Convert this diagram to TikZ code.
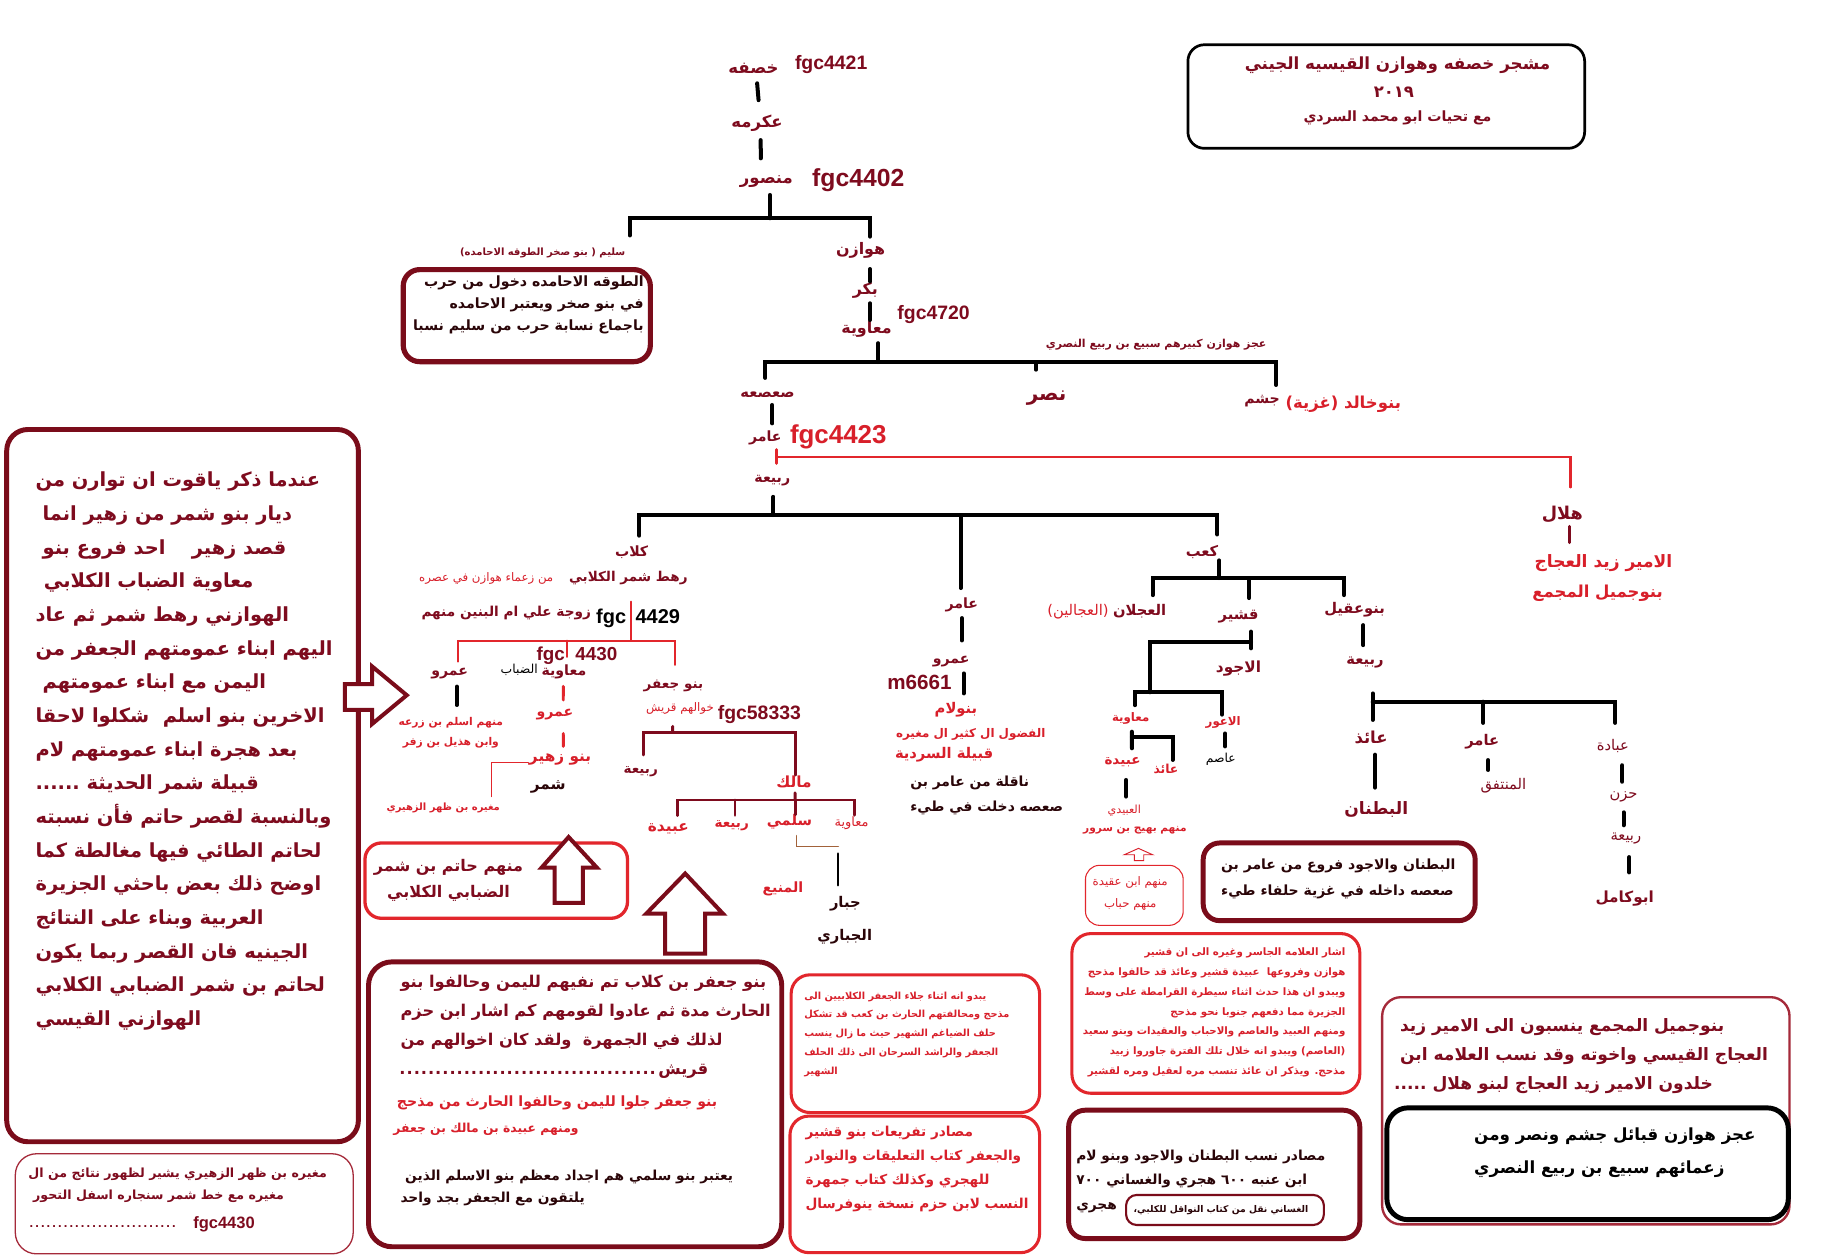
\documentclass[tikz,border=0pt]{standalone}
\usepackage{fontspec}
\setmainfont{Liberation Sans}
\newfontfamily\arabicfont[Script=Arabic]{DejaVu Sans}
\TeXXeTstate=1
\usetikzlibrary{positioning}

\definecolor{dred}{HTML}{7E0B1E}
\definecolor{rred}{HTML}{D81F2A}
\definecolor{bord}{HTML}{7A0C1A}
\definecolor{rbord}{HTML}{E2262C}
\definecolor{brn}{HTML}{A2623A}
\definecolor{ink}{HTML}{2A0508}
\definecolor{pink}{HTML}{A52A3A}

\newcommand\ar[1]{\beginR #1\endR}
\newcommand\fsz[2]{\fontsize{#1}{#2}\selectfont}

\tikzset{
  kin/.style={inner sep=0pt, text=dred, font={\arabicfont\bfseries\fsz{#1}{#1}}},
  kinl/.style={inner sep=0pt, text=dred, font={\arabicfont\fsz{#1}{#1}}},
  kinr/.style={inner sep=0pt, text=rred, font={\arabicfont\bfseries\fsz{#1}{#1}}},
  kinrl/.style={inner sep=0pt, text=rred, font={\arabicfont\fsz{#1}{#1}}},
  kblk/.style={inner sep=0pt, text=ink, font={\arabicfont\bfseries\fsz{#1}{#1}}},
  kblkl/.style={inner sep=0pt, text=black, font={\arabicfont\fsz{#1}{#1}}},
  fgc/.style={inner sep=0pt, text=dred, font={\bfseries\fsz{#1}{#1}}},
  para/.style 2 args={inner sep=0pt, align=left, font={\arabicfont\bfseries\fsz{#1}{#2}}},
  lk/.style 2 args={shorten <=#1, shorten >=#2},
  bar/.style={line width=3.4pt},
  rln/.style={draw=rbord, line width=1.8pt},
  mln/.style={draw=dred, line width=2.5pt},
  bigbox/.style={draw=bord, line width=4.2pt, rounded corners=18pt},
  redbox/.style={draw=rbord, line width=2.6pt, rounded corners=16pt},
  hollow/.style={draw=bord, line width=3.4pt, fill=white, line join=miter},
}

\begin{document}
\begin{tikzpicture}[x=1pt,y=-1pt,line cap=round]
\fill[white] (0,0) rectangle (1568,1070);
\useasboundingbox (0,0) rectangle (1568,1070);

% ---- title ----
\draw[line width=2.3pt, rounded corners=14pt] (1009,38) rectangle (1346,126);
\node[kin=14.2] (title) at (1187,55) {\ar{مشجر خصفه وهوازن القيسيه الجيني}};
\node[kin=14] (year) at (1184,78) {\ar{٢٠١٩}};
\node[kin=12] (greet) at (1187,100.5) {\ar{مع تحيات ابو محمد السردي}};

% ---- khasafa .. mansour ----
\node[kin=14] (khasafa) at (640,58) {\ar{خصفه}};
\node[fgc=16.5] (g4421) at (706,55) {fgc4421};
\node[kin=14] (ikrima) at (643,104.5) {\ar{عكرمه}};
\node[kin=14] (mansour) at (651,154) {\ar{منصور}};
\node[fgc=21] (g4402) at (729,153) {fgc4402};
\node[kin=13.5] (hawazin) at (731,213) {\ar{هوازن}};
\node[kin=8.5] (sulaym) at (461,215) {\ar{سليم ( بنو صخر الطوقه الاحامده)}};
\draw[bar, lk={12.8pt}{19.5pt}] ([xshift=2pt]khasafa.center) -- ([xshift=3pt]ikrima.center);
\draw[bar, lk={14.5pt}{19.5pt}] ([xshift=3pt]ikrima.center) -- ([xshift=-4.6pt]mansour.center);
\coordinate (jm) at (654,185.4);
\draw[bar, shorten <=11.6pt] ([xshift=3pt]mansour.center) -- ([xshift=3pt]mansour.center |- jm);
\coordinate (jsl) at (535,200);
\draw[bar, shorten >=12pt] (jsl) |- (jm) -| ([xshift=8pt]hawazin.center);

% sulaym box
\draw[bigbox, line width=4.4pt, rounded corners=14pt] (342.5,229) rectangle (552.4,307.2);
\node[para={12}{18.4}, text=ink, align=right, anchor=east] (sulaymtxt) at (547,259)
  {\ar{الطوقه الاحامده دخول من حرب}\\ \ar{في بنو صخر ويعتبر الاحامده}\\ \ar{باجماع نسابة حرب من سليم نسبا}};

% ---- hawazin .. muawiya ----
\node[kin=13.5] (bakr) at (735,247) {\ar{بكر}};
\node[kin=13.5] (muaw1) at (736,280) {\ar{معاوية}};
\node[fgc=16.5] (g4720) at (793,267) {fgc4720};
\draw[bar, lk={15.5pt}{8pt}] ([xshift=8pt]hawazin.center) -- ([xshift=4pt]bakr.center);
\draw[bar, lk={10.6pt}{8.2pt}] ([xshift=4pt]bakr.center) -- ([xshift=3pt]muaw1.center);

\node[kin=9.3] (ajz) at (982,293) {\ar{عجز هوازن كبيرهم سبيع بن ربيع النصري}};
\node[kin=12.5] (saasaa) at (652,335) {\ar{صعصعه}};
\node[kin=17] (nasr) at (889,338) {\ar{نصر}};
\node[kin=12] (jusham) at (1072,341) {\ar{جشم}};
\node[kinr=14] (khalid) at (1141,343) {\ar{بنوخالد (غزية)}};
\coordinate (jmu) at (746,307.5);
\draw[bar, shorten <=11.5pt] ([xshift=10pt]muaw1.center) -- ([xshift=10pt]muaw1.center |- jmu);
\draw[bar, lk={14pt}{14pt}] ([xshift=-2pt]saasaa.center) |- (jmu) -| ([xshift=12pt]jusham.center);
\draw[bar, shorten >=24pt] ([xshift=-9pt]nasr.center |- jmu) -- ([xshift=-9pt]nasr.center);

% ---- amir / fgc4423 ----
\node[kin=12] (amir1) at (650,372) {\ar{عامر}};
\node[fgc=22, text=rred] (g4423) at (712,371) {fgc4423};
\node[kin=12] (rabia1) at (656,408) {\ar{ربيعة}};
\node[kin=15] (hilal) at (1327,437) {\ar{هلال}};
\node[kinr=14.5] (zaid) at (1362,478) {\ar{الامير زيد العجاج}};
\node[kinr=14] (jamil) at (1357,504) {\ar{بنوجميل المجمع}};
\draw[bar, lk={9pt}{12.4pt}] ([xshift=4pt]saasaa.center) -- ([xshift=6pt]amir1.center);
\coordinate (rj) at (659.6,388);
\draw[rln, line width=2.6pt, lk={10pt}{14.5pt}] ([xshift=9.6pt]amir1.center) -- ([xshift=3.6pt]rabia1.center);
\draw[rln, shorten >=23pt] (rj) -| ([xshift=7pt]hilal.center);
\draw[mln, lk={10pt}{17pt}] ([xshift=6pt]hilal.center) -- ([xshift=-29pt]zaid.center);

% ---- rabia bracket ----
\node[kin=12] (kilab) at (536.5,469) {\ar{كلاب}};
\node[kin=12] (amir2) at (817,514) {\ar{عامر}};
\node[kin=12.5] (kaab) at (1021,469) {\ar{كعب}};
\coordinate (jr) at (657,437.5);
\draw[bar, shorten <=14pt] ([xshift=1pt]rabia1.center) -- (jr);
\draw[bar, lk={14pt}{15pt}] ([xshift=6.5pt]kilab.center) |- (jr) -| ([xshift=13pt]kaab.center);
\draw[bar, shorten >=14.5pt] ([xshift=-1pt]amir2.center |- jr) -- ([xshift=-1pt]amir2.center);

% ---- kilab ----
\node[kin=11.5] (shamr1) at (533.7,491) {\ar{رهط شمر الكلابي}};
\node[kinrl=10] (zuamaa) at (413,491) {\ar{من زعماء هوازن في عصره}};
\node[kin=11.6] (zawja) at (430,521) {\ar{زوجة علي ام البنين منهم}};
\node[fgc=17, text=black] (g4429) at (542,525) {fgc\hspace{8pt}4429};
\node[kin=12] (amr1) at (382,572.5) {\ar{عمرو}};
\node[kin=12] (muaw2) at (479,571) {\ar{معاوية}};
\node[kblkl=10.5] (dabab) at (441,569) {\ar{الضباب}};
\node[fgc=16] (g4430) at (490,557) {fgc\hspace{9pt}4430};
\node[kin=11.5] (jafar) at (572,582.5) {\ar{بنو جعفر}};
\node[kinrl=10] (akhwal) at (577.6,602) {\ar{خوالهم قريش}};
\node[fgc=16.5] (g58333) at (645,607) {fgc58333};
\coordinate (jk) at (536,544.2);
\draw[rln, shorten <=20pt] ([xshift=2.3pt]shamr1.center) -- (jk);
\draw[rln, lk={10.5pt}{17.7pt}] ([xshift=7pt]amr1.center) |- (jk) -| ([xshift=1.3pt]jafar.center);
\draw[rln, shorten >=13pt] ([xshift=2.3pt]muaw2.center |- jk) -- ([xshift=2.3pt]muaw2.center);

\node[kinr=9.1, align=center, font={\arabicfont\bfseries\fsz{9.1}{17}}] (aslam) at (383,622) {\ar{منهم اسلم بن زرعه}\\ \ar{وابن هذيل بن زفر}};
\node[kinr=12] (amr2) at (471.4,607.3) {\ar{عمرو}};
\node[kinr=13] (zuhair) at (475.7,645) {\ar{بنو زهير}};
\node[kblk=13] (shamr2) at (465.7,668) {\ar{شمر}};
\node[kinr=8.5] (mughira) at (376.5,686.6) {\ar{مغيره بن ظهر الزهيري}};
\draw[bar, line width=3pt, lk={10.5pt}{23pt}] ([xshift=6pt]amr1.center) -- ([xshift=5pt]aslam.center);
\draw[rln, line width=2.5pt, lk={12pt}{12.7pt}] ([xshift=-0.5pt]muaw2.center) -- ([xshift=7pt]amr2.center);
\draw[rln, line width=2.5pt, lk={15.7pt}{11pt}] ([xshift=7pt]amr2.center) -- ([xshift=2.8pt]zuhair.center);
\draw[rbord, line width=0.9pt, shorten >=10pt] ([xshift=-27pt,yshift=-3pt]zuhair.center) -| ([xshift=41pt]mughira.center);

% jafar branch
\node[kin=11.5] (rabia2) at (544.2,655.5) {\ar{ربيعة}};
\node[kinr=13] (malik) at (674.4,664.5) {\ar{مالك}};
\node[kinr=13] (ubaida1) at (567.7,704) {\ar{عبيدة}};
\node[kinr=11.5] (rabia3) at (621.5,701) {\ar{ربيعة}};
\node[kinr=12.5] (salmi) at (670.5,698) {\ar{سلمي}};
\node[kinrl=11] (muaw3) at (723.4,699.3) {\ar{معاوية}};
\node[kinr=12] (muna) at (665,755) {\ar{المنيع}};
\node[kblk=12.5] (jabbar) at (718,768) {\ar{جبار}};
\node[kblk=12.5] (jabbari) at (717.5,795.6) {\ar{الجباري}};
\coordinate (jj) at (571.4,622);
\draw[mln, shorten <=15pt] ([xshift=-6.2pt]akhwal.center) -- (jj);
\draw[mln, lk={14.2pt}{6.2pt}] ([xshift=2.2pt]rabia2.center) |- (jj) -| ([xshift=0.9pt]malik.center);
\coordinate (jma) at (675.3,679.5);
\draw[mln, shorten <=9pt] ([xshift=0.9pt]malik.center) -- (jma);
\draw[mln, lk={11.3pt}{7pt}] ([xshift=7.6pt]ubaida1.center) |- (jma) -| ([xshift=2.3pt]muaw3.center);
\draw[mln, shorten >=8.5pt] ([xshift=2.8pt]rabia3.center |- jma) -- ([xshift=2.8pt]rabia3.center);
\draw[mln, shorten >=6pt] ([xshift=4.8pt]salmi.center |- jma) -- ([xshift=4.8pt]salmi.center);
\coordinate (jbr) at (712,719);
\draw[brn, line width=1.6pt, shorten <=12pt] ([xshift=6pt]salmi.center) |- (jbr);
\draw[line width=2pt, lk={6pt}{16pt}] (jbr) -- ([xshift=-6pt]jabbar.center);

% ---- amir branch ----
\node[kin=12] (amr3) at (808,562) {\ar{عمرو}};
\node[fgc=17.5] (m6661) at (781,580) {m6661};
\node[kinr=12.5] (banulam) at (812,603) {\ar{بنولام}};
\node[kinr=10.1] (fudul) at (824.5,624) {\ar{الفضول ال كثير ال مغيره}};
\node[kinr=12.5] (sardiya) at (802,641) {\ar{قبيلة السردية}};
\node[para={11.8}{21}, text=ink, anchor=west] (naqila) at (773,675.5) {\ar{ناقلة من عامر بن}\\ \ar{صعصه دخلت في طيء}};
\draw[bar, lk={11pt}{18pt}] (amir2.center) -- ([xshift=9pt]amr3.center);
\draw[bar, lk={10pt}{14pt}] ([xshift=10.5pt]amr3.center) -- ([xshift=6.5pt]banulam.center);

% ---- kaab ----
\node[kin=12.5] (ajlan) at (968,519.5) {\ar{العجلان}};
\node[kinrl=12.5] (ajalin) at (915.6,519.5) {\ar{(العجالين)}};
\node[kin=12.5] (qushayr) at (1052,524) {\ar{قشير}};
\node[kin=12.5] (aqil) at (1150.6,518) {\ar{بنوعقيل}};
\node[kin=13] (ajwad) at (1052,567.7) {\ar{الاجود}};
\node[kinr=10] (muaw4) at (960.4,610) {\ar{معاوية}};
\node[kinr=10] (awar) at (1039,614) {\ar{الاعور}};
\node[kblkl=10.5] (asim) at (1037,645) {\ar{عاصم}};
\node[kinr=11.5] (ubaida2) at (953.5,647) {\ar{عبيدة}};
\node[kinr=10.5] (aidh1) at (990.4,653.5) {\ar{عائذ}};
\node[kinrl=9.5] (ubaydi) at (955,688.6) {\ar{العبيدي}};
\node[kinr=9] (bahij) at (964,705) {\ar{منهم بهيج بن سرور}};
\coordinate (jka) at (1035.6,491);
\draw[bar, shorten <=7pt] ([xshift=14.6pt]kaab.center) -- (jka);
\draw[bar, lk={14pt}{12.5pt}] ([xshift=11pt]ajlan.center) |- (jka) -| ([xshift=-9pt]aqil.center);
\draw[bar, shorten >=16pt] ([xshift=9pt]qushayr.center |- jka) -- ([xshift=9pt]qushayr.center);
\coordinate (jq) at (1062.6,545);
\draw[bar, lk={12.5pt}{17pt}] ([xshift=10.6pt]qushayr.center) -- ([xshift=10.6pt]ajwad.center);
\coordinate (jaj) at (976.8,588);
\draw[bar] (jq) -| (jaj);
\draw[bar, lk={11pt}{7pt}] ([xshift=3.6pt]muaw4.center) |- (jaj) -| ([xshift=-1pt]awar.center);
\draw[bar, lk={9pt}{11pt}] ([xshift=1.6pt]awar.center) -- ([xshift=3.6pt]asim.center);
\coordinate (jmw) at (961.5,626);
\draw[bar, lk={11.5pt}{11.4pt}] ([xshift=1pt]muaw4.center) -- ([xshift=8pt]ubaida2.center);
\draw[bar, shorten >=8pt] (jmw) -| ([xshift=5.6pt]aidh1.center);
\draw[bar, lk={15.5pt}{12pt}] ([xshift=3pt]ubaida2.center) -- ([xshift=1.5pt]ubaydi.center);
\draw[rred, line width=0.8pt, fill=white] (963.5,731) -- (963.5,726) -- (955,726) -- (967,720.6) -- (979,726) -- (971.5,726) -- (971.5,731) -- cycle;
\draw[rbord, line width=0.9pt, rounded corners=12pt] (922,735) rectangle (1005,786);
\node[kinrl=10, align=center, font={\arabicfont\fsz{10}{19}}] (aqida) at (960,759) {\ar{منهم ابن عقيدة}\\ \ar{منهم حباب}};

% ---- aqil ----
\node[kin=12.5] (rabia4) at (1159.5,563) {\ar{ربيعة}};
\node[kin=14] (aidh2) at (1164.6,626) {\ar{عائذ}};
\node[kin=14.5] (batnan) at (1169,688) {\ar{البطنان}};
\node[kin=12.5] (amir3) at (1259,630) {\ar{عامر}};
\node[kinl=12.5] (muntafiq) at (1277,667) {\ar{المنتفق}};
\node[kinl=12.5] (ubada) at (1370,634) {\ar{عبادة}};
\node[kinl=12.5] (hazn) at (1379,677) {\ar{حزن}};
\node[kinl=12.5] (rabia5) at (1381,712) {\ar{ربيعة}};
\node[kin=13] (abukamil) at (1380,763) {\ar{ابوكامل}};
\draw[bar, lk={13pt}{15pt}] ([xshift=7.4pt]aqil.center) -- ([xshift=-1.5pt]rabia4.center);
\coordinate (jab) at (1166,596);
\draw[bar, lk={26pt}{14.5pt}] ([xshift=6.5pt]rabia4.center) -- ([xshift=1.4pt]aidh2.center);
\draw[bar, shorten >=20pt] (jab) -| ([xshift=2pt]ubada.center);
\draw[bar, shorten >=16pt] ([xshift=1pt]amir3.center |- jab) -- ([xshift=1pt]amir3.center);
\draw[bar, lk={15pt}{19pt}] ([xshift=3.4pt]aidh2.center) -- ([xshift=-1pt]batnan.center);
\draw[bar, lk={15.6pt}{13pt}] ([xshift=5pt]amir3.center) -- ([xshift=-13pt]muntafiq.center);
\draw[bar, lk={16pt}{13pt}] ([xshift=8pt]ubada.center) -- ([xshift=-1pt]hazn.center);
\draw[bar, lk={13pt}{11pt}] (hazn.center) -- ([xshift=-2pt]rabia5.center);
\draw[bar, lk={16pt}{22pt}] ([xshift=3pt]rabia5.center) -- ([xshift=4pt]abukamil.center);

% ---- left note ----
\draw[bigbox] (5.7,364.8) rectangle (304.4,969.8);
\node[para={16.5}{28.6}, text=dred, anchor=west] (yaqut) at (30,638)
  {\ar{عندما ذكر ياقوت ان توارن من}\\
   \hspace*{6pt}\ar{ديار بنو شمر من زهير انما}\\
   \hspace*{6pt}\ar{قصد زهير \quad احد فروع بنو}\\
   \hspace*{7pt}\ar{معاوية الضباب الكلابي}\\
   \ar{الهوازني رهط شمر ثم عاد}\\
   \ar{اليهم ابناء عمومتهم الجعفر من}\\
   \hspace*{6pt}\ar{اليمن مع ابناء عمومتهم}\\
   \ar{الاخرين بنو اسلم \ شكلوا لاحقا}\\
   \ar{بعد هجرة ابناء عمومتهم لام}\\
   \ar{قبيلة شمر الحديثة ......}\\
   \ar{وبالنسبة لقصر حاتم فأن نسبته}\\
   \ar{لحاتم الطائي فيها مغالطة كما}\\
   \ar{اوضح ذلك بعض باحثي الجزيرة}\\
   \ar{العربية وبناء على النتائج}\\
   \ar{الجينيه فان القصر ربما يكون}\\
   \ar{لحاتم بن شمر الضبابي الكلابي}\\
   \ar{الهوازني القيسي}};
\draw[hollow] (293,581) -- (316,581) -- (316,566) -- (345.5,590.5) -- (316,615) -- (316,603) -- (293,603) -- cycle;

% ---- hatim box and arrows ----
\draw[redbox, line width=2.8pt, rounded corners=14pt] (310,716) rectangle (533,780);
\node[para={13.6}{22}, text=dred, align=center] (hatim) at (381,748) {\ar{منهم حاتم بن شمر}\\ \ar{الضبابي الكلابي}};
\draw[hollow] (471,767) -- (471,737) -- (460,737) -- (483,711) -- (507,737) -- (495,737) -- (495,767) -- cycle;
\draw[hollow] (565,810) -- (565,776) -- (549,776) -- (582,742) -- (614,776) -- (599,776) -- (599,810) -- cycle;

% ---- jafar note ----
\draw[bigbox, rounded corners=20pt] (313,817) rectangle (664,1059);
\node[para={13.8}{24.5}, text=dred, anchor=west] (jafartxt) at (340,872)
  {\ar{بنو جعفر بن كلاب تم نفيهم لليمن وحالفوا بنو}\\
   \ar{الحارث مدة ثم عادوا لقومهم كم اشار ابن حزم}\\
   \ar{لذلك في الجمهرة \ ولقد كان اخوالهم من}\\
   \hspace*{-3pt}\makebox[222pt]{\dotfill}\ar{قريش}};
\node[kinr=12, anchor=west] (jala2) at (337,937) {\ar{بنو جعفر جلوا لليمن وحالفوا الحارث من مذحج}};
\node[kinr=10.5, anchor=west] (ubmalik) at (334,959) {\ar{ومنهم عبيدة بن مالك بن جعفر}};
\node[para={11.7}{18.5}, text=ink, anchor=west] (salmitxt) at (340,1009)
  {\hspace*{4pt}\ar{يعتبر بنو سلمي هم اجداد معظم بنو الاسلم الذين}\\ \ar{يلتقون مع الجعفر بجد واحد}};

% ---- middle red notes ----
\draw[redbox] (672,828) rectangle (883,945);
\node[para={8.3}{16}, text=rred, anchor=west] (jala) at (683,878.5)
  {\ar{يبدو انه اثناء جلاء الجعفر الكلابيين الى}\\
   \ar{مذحج ومحالفتهم الحارث بن كعب قد تشكل}\\
   \ar{حلف الضياغم الشهير حيث ما زال ينسب}\\
   \ar{الجعفر والراشد السرحان الى ذلك الحلف}\\
   \ar{الشهير}};
\draw[redbox] (671,948) rectangle (883,1064);
\node[para={11.6}{20.3}, text=rred, anchor=west] (masadir) at (684,993)
  {\ar{مصادر تفريعات بنو قشير}\\
   \ar{والجعفر كتاب التعليقات والنوادر}\\
   \ar{للهجري وكذلك كتاب جمهرة}\\
   \ar{النسب لابن حزم نسخة ينوفرسال}};

\draw[redbox] (910.5,793) rectangle (1155,928.6);
\node[para={8.7}{16.75}, text=rred, align=right, anchor=east] (ishara) at (1143,860)
  {\ar{اشار العلامه الجاسر وغيره الى ان قشير}\\
   \ar{هوازن وفروعها \ عبيدة قشير وعائذ قد حالفوا مذحج}\\
   \ar{ويبدو ان هذا حدث اثناء سيطرة القرامطة على وسط}\\
   \ar{الجزيرة مما دفعهم جنوبا نحو مذحج}\\
   \ar{ومنهم العبيد والعاصم والاحباب والعقيدات وبنو سعيد}\\
   \ar{(العاصم) ويبدو انه خلال تلك الفترة جاوروا زبيد}\\
   \ar{مذحج. ويذكر ان عائذ تنسب مره لعقيل ومره لقشير}};

\draw[bigbox, rounded corners=14pt] (907.7,943) rectangle (1155,1052);
\node[para={11.7}{20.9}, text=ink, anchor=west] (nasab) at (914,1003.4)
  {\ar{مصادر نسب البطنان والاجود وبنو لام}\\
   \ar{ابن عنبه ٦٠٠ هجري والغساني ٧٠٠}\\
   \ar{هجري}};
\draw[bord, line width=1.8pt, rounded corners=9pt] (956.5,1015) rectangle (1124.5,1040.5);
\node[kblk=7.85] (ghassani) at (1037,1028) {\ar{الغساني نقل من كتاب النواقل للكلبي،}};

% ---- right notes ----
\draw[bigbox, rounded corners=14pt] (1022,716) rectangle (1253,782);
\node[para={11.9}{22.5}, text=ink, anchor=west] (batnantxt) at (1037,746.5)
  {\ar{البطنان والاجود فروع من عامر بن}\\ \ar{صعصه داخله في غزية حلفاء طيء}};

\draw[draw=pink, line width=2pt, rounded corners=16pt] (1174,847) rectangle (1520,1040);
\node[para={14.5}{25}, text=dred, anchor=west] (jamiltxt) at (1184,897)
  {\hspace*{5pt}\ar{بنوجميل المجمع ينسبون الى الامير زيد}\\
   \hspace*{5pt}\ar{العجاج القيسي واخوته وقد نسب العلامه ابن}\\
   \ar{خلدون الامير زيد العجاج لبنو هلال .....}};
\draw[line width=4.2pt, rounded corners=18pt] (1178,941) rectangle (1519,1036);
\node[para={14.2}{28}, text=black, anchor=west] (ajz2) at (1252,979)
  {\ar{عجز هوازن قبائل جشم ونصر ومن}\\ \ar{زعمائهم سبيع بن ربيع النصري}};

% ---- bottom left note ----
\draw[draw=pink, line width=1.1pt, rounded corners=18pt] (13,980) rectangle (300,1065);
\node[para={10.7}{18.5}, text=dred, anchor=west] (mughiratxt) at (24,1007)
  {\ar{مغيره بن ظهر الزهيري يشير لظهور نتائج من ال}\\ \hspace*{4pt}\ar{مغيره مع خط شمر سنجاره اسفل التحور}};
\node[fgc=11, anchor=west] (dots) at (23,1042) {\makebox[128pt]{\dotfill}};
\node[fgc=14, anchor=west] (g4430b) at (164,1040) {fgc4430};
\end{tikzpicture}
\end{document}
